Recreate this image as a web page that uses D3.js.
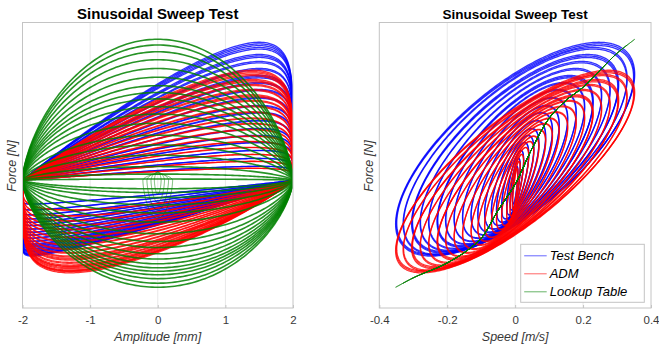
<!DOCTYPE html>
<html>
<head>
<meta charset="utf-8">
<script src="https://cdn.jsdelivr.net/npm/d3@7"></script>
<style>
  html, body { margin: 0; padding: 0; background: #fff; }
  svg { display: block; font-family: "Liberation Sans", Arial, Helvetica, sans-serif; }
</style>
</head>
<body>
<svg id="chart" width="659" height="347"></svg>
<script>
// ---- sweep steps: speed amplitude of each frequency step [m/s] ----
const speedAmp = [0.352, 0.33, 0.305, 0.28, 0.255, 0.23, 0.205, 0.18, 0.155, 0.13, 0.11, 0.09, 0.07, 0.055, 0.04, 0.025, 0.015, 0.008];
// cycles recorded at each step
const cyclesPerStep = [3, 2, 3, 2, 2, 3, 2, 2, 2, 2, 2, 2, 2, 2, 2, 2, 2, 2];

// ---- peak forces per step [N] ----
const benchMax = [691, 665, 630, 595, 560, 525, 490, 455, 415, 375, 340, 300, 260, 225, 190, 150, 110, 70];
const benchMin = [-380, -375, -365, -355, -345, -335, -322, -308, -292, -276, -262, -246, -228, -212, -195, -175, -150, -120];
const admMax   = [551, 530, 505, 480, 455, 428, 400, 372, 343, 312, 285, 255, 222, 195, 165, 130, 95, 60];
const admMin   = [-464, -455, -443, -430, -416, -400, -384, -366, -347, -326, -308, -288, -266, -248, -228, -205, -180, -150];

// ---- damper lookup table: force vs speed ----
const lookupSpeed = [-0.355, -0.3, -0.2, -0.1, -0.05, 0, 0.05, 0.1, 0.15, 0.2, 0.25, 0.3, 0.352];
const lookupForce = [-539, -489, -414, -290, -150, -20, 160, 310, 400, 466, 551, 636, 706];

// ---- lookup-table run-in at the start of the sweep ----
const runInAmp = [0.05, 0.1, 0.16, 0.22];          // [mm]
const runInForceUp = [42, 40, 36, 30];              // [N]
const runInForceDn = [-70, -110, -150, -190];       // [N]

// ---- axes ----
const ampTicks = [-2, -1, 0, 1, 2];
const ampTickLabels = ["-2", "-1", "0", "1", "2"];
const speedTicks = [-0.4, -0.2, 0, 0.2, 0.4];
const speedTickLabels = ["-0.4", "-0.2", "0", "0.2", "0.4"];
const seriesNames = ["Test Bench", "ADM", "Lookup Table"];
const chartTitle = "Sinusoidal Sweep Test";

const strokeAmp = 2; // displacement amplitude of the sweep [mm]

const colors = { bench: "#0000ff", adm: "#ff0000", lut: "#008000" };

const svg = d3.select("#chart");
const forceDomain = [-640, 790];

const boxA = { x0: 22.5, x1: 293, y0: 22.5, y1: 308 };
const boxB = { x0: 379.3, x1: 651, y0: 22.5, y1: 308 };

const xA = d3.scaleLinear([-2, 2], [boxA.x0, boxA.x1]);
const yA = d3.scaleLinear(forceDomain, [boxA.y1, boxA.y0]);
const xB = d3.scaleLinear([-0.4, 0.4], [boxB.x0, boxB.x1]);
const yB = d3.scaleLinear(forceDomain, [boxB.y1, boxB.y0]);

// monotone cubic evaluation of the lookup table
function monotoneTable(xs, ys) {
  const n = xs.length, d = [], m = new Array(n);
  for (let i = 0; i < n - 1; i++) d.push((ys[i + 1] - ys[i]) / (xs[i + 1] - xs[i]));
  m[0] = d[0]; m[n - 1] = d[n - 2];
  for (let i = 1; i < n - 1; i++) {
    if (d[i - 1] * d[i] <= 0) m[i] = 0;
    else { const h0 = xs[i] - xs[i - 1], h1 = xs[i + 1] - xs[i];
      m[i] = 3 * (h0 + h1) / ((2 * h1 + h0) / d[i - 1] + (h1 + 2 * h0) / d[i]); }
  }
  return v => {
    if (v <= xs[0]) return ys[0];
    if (v >= xs[n - 1]) return ys[n - 1];
    const i = d3.bisectRight(xs, v) - 1;
    const h = xs[i + 1] - xs[i], t = (v - xs[i]) / h;
    const t2 = t * t, t3 = t2 * t;
    return (2 * t3 - 3 * t2 + 1) * ys[i] + (t3 - 2 * t2 + t) * h * m[i]
         + (-2 * t3 + 3 * t2) * ys[i + 1] + (t3 - t2) * h * m[i + 1];
  };
}
const lookup = monotoneTable(lookupSpeed, lookupForce);

// normalised half-cycle force shape over s = x / amplitude
function halfShape(m, p, dir) {
  const f = s => Math.pow(Math.max(0, 1 + dir * s), m) * Math.pow(Math.sqrt(Math.max(0, 1 - s * s)), p);
  let mx = 0;
  for (let i = 0; i <= 800; i++) mx = Math.max(mx, f(-1 + 2 * i / 800));
  return s => f(s) / mx;
}
const benchUp = halfShape(0.85, 0.283, 1), benchDn = halfShape(0.9, 0.068, -1);
const admUp = halfShape(0.8, 0.343, 1), admDn = halfShape(0.7, 0.377, -1);

const N = 300;
const theta = d3.range(N + 1).map(i => -Math.PI / 2 + 2 * Math.PI * i / N);

// force vs displacement over one cycle (x = A sin θ)
function ampLoop(fMax, fMin, up, dn, k) {
  return theta.map(t => {
    const s = Math.sin(t), c = Math.cos(t);
    const f = c >= 0 ? fMax * k * up(s) : fMin * k * dn(s);
    return [strokeAmp * s, f];
  });
}
// lens-shaped cycle between given peak forces
function lensLoop(amp, fu, fd) {
  return theta.map(t => {
    const s = Math.sin(t), c = Math.cos(t);
    const w = Math.pow(Math.abs(c), 1.3);
    return [amp * s, (c >= 0 ? fu : fd) * w];
  });
}
// force vs speed over one cycle (v = V cos θ)
function speedLoop(V, fMax, fMin, rho, k) {
  const f0 = (fMax + fMin) / 2 * k, R = (fMax - fMin) / 2 * k;
  const a = rho * R, b = Math.sqrt(1 - rho * rho) * R;
  const Vk = V * (1 - 0.4 * (1 - k));
  return theta.map(t => [Vk * Math.cos(t), f0 + a * Math.cos(t) + b * Math.sin(t)]);
}
function speedLoopLut(V) {
  return theta.map(t => { const v = V * Math.cos(t); return [v, lookup(v)]; });
}

// ---- gridlines ----
function grid(box, x, ticks) {
  svg.append("g").selectAll("line").data(ticks.slice(1, -1)).join("line")
    .attr("x1", d => x(d)).attr("x2", d => x(d))
    .attr("y1", box.y0).attr("y2", box.y1)
    .attr("stroke", "#e8e8e8").attr("stroke-width", 1);
}
// ---- box, ticks, labels, title ----
function frame(box, x, ticks, labels, xLabel, titleSize, titleY) {
  const g = svg.append("g");
  g.append("rect").attr("x", box.x0).attr("y", box.y0)
    .attr("width", box.x1 - box.x0).attr("height", box.y1 - box.y0)
    .attr("fill", "none").attr("stroke", "#c4c4c4").attr("stroke-width", 1);
  const axis = d3.axisBottom(x).tickValues(ticks).tickFormat((d, i) => labels[i]).tickSize(-3).tickPadding(8);
  const ax = g.append("g").attr("transform", `translate(0,${box.y1})`).call(axis);
  ax.select(".domain").remove();
  ax.selectAll(".tick line").attr("stroke", "#c4c4c4");
  ax.selectAll(".tick text").attr("fill", "#383838").attr("font-size", "11.5px")
    .attr("font-family", "Liberation Sans, Arial, sans-serif");
  const cx = (box.x0 + box.x1) / 2;
  g.append("text").attr("x", cx).attr("y", 341).attr("text-anchor", "middle")
    .attr("font-size", "12.5px").attr("font-style", "italic").attr("fill", "#383838").text(xLabel);
  g.append("text").attr("transform", `translate(${box.x0 - 6.5},166) rotate(-90)`)
    .attr("text-anchor", "middle").attr("font-size", "12.5px").attr("font-style", "italic")
    .attr("fill", "#383838").text("Force [N]");
  g.append("text").attr("x", cx).attr("y", titleY).attr("text-anchor", "middle")
    .attr("font-size", titleSize).attr("font-weight", "bold").attr("fill", "#000").text(chartTitle);
}

const defs = svg.append("defs");
defs.append("clipPath").attr("id", "clipA").append("rect")
  .attr("x", boxA.x0).attr("y", boxA.y0).attr("width", boxA.x1 - boxA.x0).attr("height", boxA.y1 - boxA.y0);
defs.append("clipPath").attr("id", "clipB").append("rect")
  .attr("x", boxB.x0).attr("y", boxB.y0).attr("width", boxB.x1 - boxB.x0).attr("height", boxB.y1 - boxB.y0);

grid(boxA, xA, ampTicks);
grid(boxB, xB, speedTicks);

function drawSteps(g, line, color, width, opacity, makeLoop) {
  speedAmp.forEach((V, i) => {
    for (let j = 0; j < cyclesPerStep[i]; j++) {
      g.append("path").attr("d", line(makeLoop(i, V, 1 - 0.012 * j)))
        .attr("stroke", color).attr("stroke-width", width).attr("stroke-opacity", opacity)
        .attr("stroke-linejoin", "round");
    }
  });
}

// ---- left panel: force vs amplitude ----
const lineA = d3.line().x(d => xA(d[0])).y(d => yA(d[1]));
const gA = svg.append("g").attr("clip-path", "url(#clipA)").attr("fill", "none");
drawSteps(gA, lineA, colors.bench, 1.3, 0.8, (i, V, k) => ampLoop(benchMax[i], benchMin[i], benchUp, benchDn, k));
drawSteps(gA, lineA, colors.adm, 1.3, 0.8, (i, V, k) => ampLoop(admMax[i], admMin[i], admUp, admDn, k));
runInAmp.forEach((a, i) => {
  gA.append("path").attr("d", lineA(lensLoop(a, runInForceUp[i], runInForceDn[i])))
    .attr("stroke", colors.lut).attr("stroke-width", 0.8).attr("stroke-opacity", 0.7);
});
speedAmp.forEach(V => {
  gA.append("path").attr("d", lineA(lensLoop(strokeAmp, lookup(V), lookup(-V))))
    .attr("stroke", colors.lut).attr("stroke-width", 1.6).attr("stroke-opacity", 0.85);
});

// ---- right panel: force vs speed ----
const lineB = d3.line().x(d => xB(d[0])).y(d => yB(d[1]));
const gB = svg.append("g").attr("clip-path", "url(#clipB)").attr("fill", "none");
drawSteps(gB, lineB, colors.bench, 1.3, 0.8, (i, V, k) => speedLoop(V, benchMax[i], benchMin[i], 0.7, k));
drawSteps(gB, lineB, colors.adm, 1.3, 0.8, (i, V, k) => speedLoop(V, admMax[i], admMin[i], 0.78, k));
speedAmp.forEach(V => {
  gB.append("path").attr("d", lineB(speedLoopLut(V)))
    .attr("stroke", colors.lut).attr("stroke-width", 1).attr("stroke-opacity", 0.6);
});

frame(boxA, xA, ampTicks, ampTickLabels, "Amplitude [mm]", "15px", 18.5);
frame(boxB, xB, speedTicks, speedTickLabels, "Speed [m/s]", "13.5px", 19.3);

// ---- legend ----
const leg = svg.append("g").attr("transform", "translate(520.7,244.3)");
leg.append("rect").attr("width", 123.6).attr("height", 58).attr("fill", "#fff")
  .attr("stroke", "#c4c4c4").attr("stroke-width", 1);
[colors.bench, colors.adm, colors.lut].forEach((c, i) => {
  const y = 11.5 + i * 18;
  leg.append("line").attr("x1", 3.5).attr("x2", 26).attr("y1", y).attr("y2", y)
    .attr("stroke", c).attr("stroke-width", 1).attr("stroke-opacity", 0.6);
  leg.append("text").attr("x", 29).attr("y", y + 4.6).attr("font-size", "13px")
    .attr("font-style", "italic").attr("fill", "#000").text(seriesNames[i]);
});
</script>
</body>
</html>
